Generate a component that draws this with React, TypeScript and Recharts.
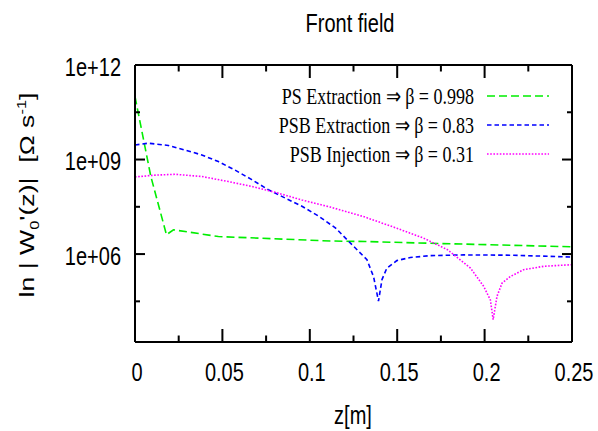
import React from 'react';
import { LineChart, Line, XAxis, YAxis, Legend } from 'recharts';

// z positions [m] and |W0'(z)| values
const PS_EXTR_Z = [0, 0.009, 0.018, 0.022, 0.0477, 0.1117, 0.1317, 0.169, 0.25];
const PS_EXTR_W = [1e11, 3.0e8, 4.1e6, 5.9e6, 3.6e6, 2.6e6, 2.5e6, 2.2e6, 1.7e6];

const PSB_EXTR_Z = [0, 0.0076, 0.0191, 0.0286, 0.0382, 0.0477, 0.0573, 0.0668, 0.0763, 0.0859, 0.0955, 0.105,
  0.1146, 0.1241, 0.1327, 0.1365, 0.1393, 0.1413, 0.1441, 0.1498, 0.1575, 0.169, 0.188, 0.2167, 0.25];
const PSB_EXTR_W = [2.9e9, 3.3e9, 2.8e9, 2.0e9, 1.4e9, 8.6e8, 4.6e8, 2.3e8, 1.1e8, 6.0e7, 3.3e7, 1.6e7,
  6.8e6, 2.0e6, 6.6e5, 1.9e5, 3.2e4, 1.55e5, 3.6e5, 6.2e5, 7.8e5, 8.9e5, 9.4e5, 9.2e5, 8.0e5];

const PSB_INJ_Z = [0, 0.0115, 0.0229, 0.0382, 0.0534, 0.0668, 0.0802, 0.0955, 0.1117, 0.1307, 0.1498, 0.1651,
  0.1785, 0.1919, 0.1995, 0.2033, 0.2049, 0.2071, 0.21, 0.2148, 0.2224, 0.2339, 0.25];
const PSB_INJ_W = [2.8e8, 3.2e8, 3.4e8, 2.9e8, 2.0e8, 1.4e8, 9.1e7, 5.2e7, 3.1e7, 1.55e7, 6.6e6, 3.2e6,
  1.4e6, 3.6e5, 9.4e4, 3.5e4, 8.3e3, 4.6e4, 1.2e5, 1.95e5, 3.2e5, 4.1e5, 4.6e5];

const SERIES_NAMES = ['PS Extraction \u21D2 \u03B2 = 0.998', 'PSB Extraction \u21D2 \u03B2 = 0.83', 'PSB Injection \u21D2 \u03B2 = 0.31'];

const X_TICKS = [0, 0.025, 0.05, 0.075, 0.1, 0.125, 0.15, 0.175, 0.2, 0.225, 0.25];
const X_MAJOR = [0, 0.05, 0.1, 0.15, 0.2, 0.25];
const X_LABELS = ['0', '0.05', '0.1', '0.15', '0.2', '0.25'];

const Y_TICKS = [31622.78, 1e6, 31622776.6, 1e9, 31622776601.7, 1e12];
const Y_MAJOR = [1e6, 1e9, 1e12];
const Y_LABELS = ['1e+06', '1e+09', '1e+12'];

const X_DOMAIN = [0, 0.25];
const Y_DOMAIN = [1620, 1e12];

const toData = (zs: number[], ws: number[]) => zs.map((z, i) => ({ z, w: ws[i] }));
const psExtr = toData(PS_EXTR_Z, PS_EXTR_W);
const psbExtr = toData(PSB_EXTR_Z, PSB_EXTR_W);
const psbInj = toData(PSB_INJ_Z, PSB_INJ_W);

const SANS = '"Liberation Sans", Arial, sans-serif';
const SERIF = '"Liberation Serif", "Times New Roman", serif';
const STRETCH = 1.27;
const TS = 10; // recharts tickSize; tick props sit TS px outside the frame

// gnuplot-style inward ticks drawn from the frame edge, long where labelled
const LeftTick = (props: any) => {
  const { x, y, payload } = props;
  const edge = x + TS;
  const idx = Y_MAJOR.indexOf(payload.value);
  const len = idx >= 0 ? 10 : 5;
  return (
    <g>
      <rect x={edge} y={y - 1} width={len} height={2} fill="#000" />
      {idx >= 0 && (
        <text transform={`translate(${edge - 14},${y + 2}) scale(1,${STRETCH})`} textAnchor="end"
          dominantBaseline="central" fontSize={20} fontFamily={SANS} fill="#000">
          {Y_LABELS[idx]}
        </text>
      )}
    </g>
  );
};

const RightTick = (props: any) => {
  const { x, y, payload } = props;
  const edge = x - TS;
  const len = Y_MAJOR.indexOf(payload.value) >= 0 ? 10 : 5;
  return <rect x={edge - len} y={y - 1} width={len} height={2} fill="#000" />;
};

const BottomTick = (props: any) => {
  const { x, y, payload } = props;
  const edge = y - TS;
  const idx = X_MAJOR.indexOf(payload.value);
  const len = idx >= 0 ? 13 : 6.5;
  return (
    <g>
      <rect x={x - 1} y={edge - len} width={2} height={len} fill="#000" />
      {idx >= 0 && (
        <text transform={`translate(${x + 2},${edge + 30}) scale(1,${STRETCH})`} textAnchor="middle"
          dominantBaseline="central" fontSize={20} fontFamily={SANS} fill="#000">
          {X_LABELS[idx]}
        </text>
      )}
    </g>
  );
};

const TopTick = (props: any) => {
  const { x, y, payload } = props;
  const edge = y + TS;
  const len = X_MAJOR.indexOf(payload.value) >= 0 ? 13 : 6.5;
  return <rect x={x - 1} y={edge} width={2} height={len} fill="#000" />;
};

const renderLegend = (props: any) => {
  const { payload = [] } = props;
  return (
    <div>
      {payload.map((entry: any, i: number) => (
        <div key={i} style={{ display: 'flex', alignItems: 'center', justifyContent: 'flex-end', height: 29 }}>
          <span style={{ display: 'inline-block', fontFamily: SERIF, fontSize: 18, color: '#000',
            transform: `scaleY(${STRETCH})`, whiteSpace: 'nowrap' }}>
            {entry.value}
          </span>
          <svg width={62} height={10} style={{ marginLeft: 13 }}>
            <line x1={0} x2={62} y1={5} y2={5} stroke={entry.color} strokeWidth={1.6}
              strokeDasharray={entry.payload?.strokeDasharray} />
          </svg>
        </div>
      ))}
    </div>
  );
};

const AXIS_LINE = { stroke: '#000', strokeWidth: 2 };
const HIDDEN_TICK_LINE = { stroke: 'none' };

export default function App() {
  return (
    <div style={{ position: 'absolute', left: 0, top: 0, width: 598, height: 431, background: '#fff' }}>
      <LineChart width={598} height={431} margin={{ top: 64, right: 25, bottom: 88, left: 134 }}>
        <XAxis xAxisId="bottom" dataKey="z" type="number" domain={X_DOMAIN} ticks={X_TICKS} interval={0}
          height={1} tickSize={TS} tickMargin={0} tickLine={HIDDEN_TICK_LINE} tick={BottomTick}
          axisLine={AXIS_LINE} allowDataOverflow />
        <XAxis xAxisId="top" orientation="top" dataKey="z" type="number" domain={X_DOMAIN} ticks={X_TICKS}
          interval={0} height={1} tickSize={TS} tickMargin={0} tickLine={HIDDEN_TICK_LINE} tick={TopTick}
          axisLine={AXIS_LINE} allowDataOverflow />
        <YAxis yAxisId="left" scale="log" domain={Y_DOMAIN} ticks={Y_TICKS} interval={0} width={1}
          tickSize={TS} tickMargin={0} tickLine={HIDDEN_TICK_LINE} tick={LeftTick}
          axisLine={AXIS_LINE} allowDataOverflow />
        <YAxis yAxisId="right" orientation="right" scale="log" domain={Y_DOMAIN} ticks={Y_TICKS} interval={0}
          width={1} tickSize={TS} tickMargin={0} tickLine={HIDDEN_TICK_LINE} tick={RightTick}
          axisLine={AXIS_LINE} allowDataOverflow />
        <Legend layout="horizontal" verticalAlign="middle" align="center" content={renderLegend}
          wrapperStyle={{ top: 81, left: 249, width: 300 }} />
        <Line xAxisId="bottom" yAxisId="left" data={psExtr} dataKey="w" name={SERIES_NAMES[0]} type="linear"
          stroke="#00ee00" strokeWidth={1.6} strokeDasharray="8 4" dot={false} isAnimationActive={false} />
        <Line xAxisId="bottom" yAxisId="left" data={psbExtr} dataKey="w" name={SERIES_NAMES[1]} type="linear"
          stroke="#0000ff" strokeWidth={1.6} strokeDasharray="4.5 3" dot={false} isAnimationActive={false} />
        <Line xAxisId="bottom" yAxisId="left" data={psbInj} dataKey="w" name={SERIES_NAMES[2]} type="linear"
          stroke="#ff00ff" strokeWidth={1.6} strokeDasharray="1.6 1.6" dot={false} isAnimationActive={false} />
      </LineChart>
      <div style={{ position: 'absolute', left: 350, top: 24, transform: `translate(-50%,-50%) scaleY(${STRETCH})`,
        fontFamily: SANS, fontSize: 20, whiteSpace: 'nowrap', color: '#000' }}>
        Front field
      </div>
      <div style={{ position: 'absolute', left: 353, top: 416, transform: `translate(-50%,-50%) scaleY(${STRETCH})`,
        fontFamily: SANS, fontSize: 20, whiteSpace: 'nowrap', color: '#000' }}>
        z[m]
      </div>
      <div style={{ position: 'absolute', left: 28, top: 195,
        transform: `translate(-50%,-50%) rotate(-90deg) scaleX(${STRETCH})`,
        fontFamily: SANS, fontSize: 21, whiteSpace: 'nowrap', color: '#000', lineHeight: 1 }}>
        ln | W<sub style={{ fontSize: 13 }}>0</sub>'(z)|&nbsp;&nbsp;[&Omega; s<sup style={{ fontSize: 13 }}>-1</sup>]
      </div>
    </div>
  );
}
